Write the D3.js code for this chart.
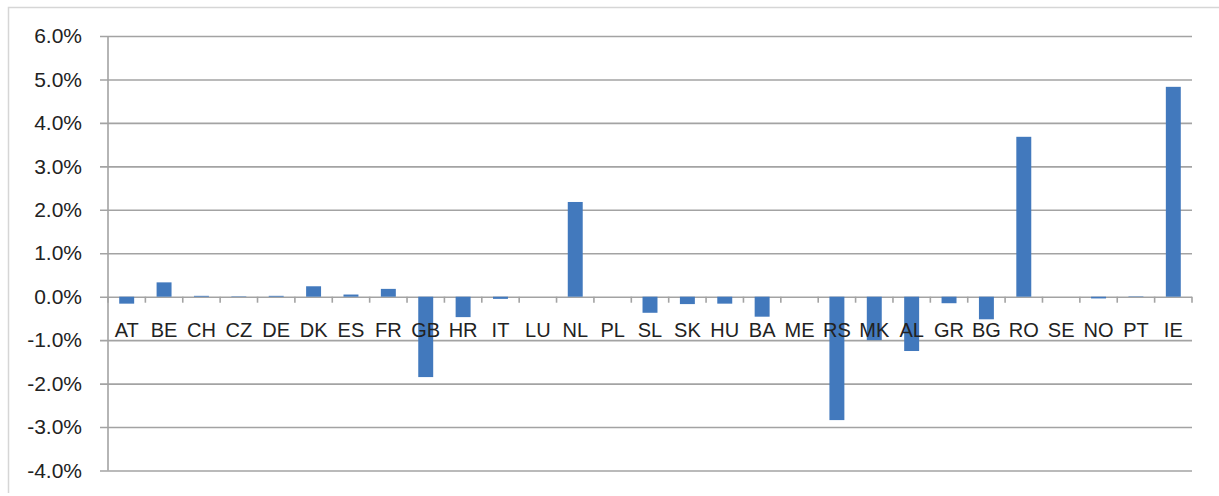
<!DOCTYPE html>
<html>
<head>
<meta charset="utf-8">
<script src="https://cdn.jsdelivr.net/npm/d3@7"></script>
<style>
  html, body { margin: 0; padding: 0; background: #fff; }
  svg { display: block; }
  text { font-family: "Liberation Sans", Arial, sans-serif; fill: #222; }
</style>
</head>
<body>
<svg id="chart" width="1219" height="496"></svg>
<script>
// Country codes along the category axis
const countries = ["AT","BE","CH","CZ","DE","DK","ES","FR","GB","HR","IT","LU","NL","PL","SL",
                   "SK","HU","BA","ME","RS","MK","AL","GR","BG","RO","SE","NO","PT","IE"];
// Change per country (fraction, shown as percent)
const changes = [-0.0016, 0.0033, 0.0002, 0.0001, 0.0002, 0.0024, 0.0005, 0.0018, -0.0185, -0.0047,
                 -0.0005, 0.0, 0.0218, 0.0, -0.0037, -0.0017, -0.0016, -0.0046, 0.0, -0.0284,
                 -0.0100, -0.0125, -0.0015, -0.0052, 0.0368, 0.0, -0.0004, 0.0001, 0.0483];
// Value axis ticks
const yTicks = [-0.04, -0.03, -0.02, -0.01, 0, 0.01, 0.02, 0.03, 0.04, 0.05, 0.06];

const svg = d3.select("#chart");
const plotLeft = 108, plotRight = 1192, plotTop = 36, plotBottom = 470.5;
const gridColor = "#a3a3a3";

// Outer chart frame (left and top edges)
svg.append("path")
  .attr("d", "M8.5,493 L8.5,7.5 L1219,7.5")
  .attr("fill", "none").attr("stroke", "#d6d6d6").attr("stroke-width", 1.5);

const x = d3.scaleBand().domain(countries).range([plotLeft, plotRight])
  .paddingInner(0.6).paddingOuter(0.3);
const y = d3.scaleLinear().domain([-0.04, 0.06]).range([plotBottom, plotTop]);

// Percent labels with a plain hyphen for negatives
const pct = d3.format(".1%");
const fmt = d => pct(d).replace("\u2212", "-");

// Horizontal gridlines with percent labels
const yAxis = d3.axisLeft(y).tickValues(yTicks)
  .tickFormat(fmt)
  .tickSize(-(plotRight - 100)).tickPadding(18);
const gy = svg.append("g").attr("transform", "translate(100,0)").call(yAxis);
gy.select(".domain").remove();
gy.selectAll(".tick line").attr("stroke", gridColor).attr("stroke-width", 1.6);
gy.selectAll(".tick text").style("font-size", "21px").attr("fill", "#222")
  .style("font-family", "'Liberation Sans', Arial, sans-serif");

// Vertical value axis line
svg.append("line")
  .attr("x1", plotLeft).attr("x2", plotLeft).attr("y1", y(0.06)).attr("y2", y(-0.04))
  .attr("stroke", gridColor).attr("stroke-width", 1.6);

// Bars
svg.append("g").selectAll("rect").data(countries).join("rect")
  .attr("x", d => x(d))
  .attr("width", x.bandwidth())
  .attr("y", (d, i) => y(Math.max(0, changes[i])))
  .attr("height", (d, i) => Math.abs(y(changes[i]) - y(0)))
  .attr("fill", "#4279bd");

// Category boundary tick marks on the zero line
const half = (x.step() - x.bandwidth()) / 2;
const boundaries = countries.map(c => x(c) - half)
  .concat([x(countries[countries.length - 1]) + x.bandwidth() + half]);
svg.append("g").selectAll("line").data(boundaries).join("line")
  .attr("x1", d => d).attr("x2", d => d)
  .attr("y1", y(0)).attr("y2", y(0) + 6)
  .attr("stroke", gridColor).attr("stroke-width", 1.6);

// Category labels just below the zero line
const xAxis = d3.axisBottom(x).tickSize(0).tickPadding(0);
const gx = svg.append("g").attr("transform", `translate(0,${y(0)})`).call(xAxis);
gx.select(".domain").remove();
gx.selectAll(".tick text")
  .attr("y", 40).attr("dy", null)
  .style("font-size", "20px").attr("fill", "#222")
  .style("font-family", "'Liberation Sans', Arial, sans-serif");
</script>
</body>
</html>
